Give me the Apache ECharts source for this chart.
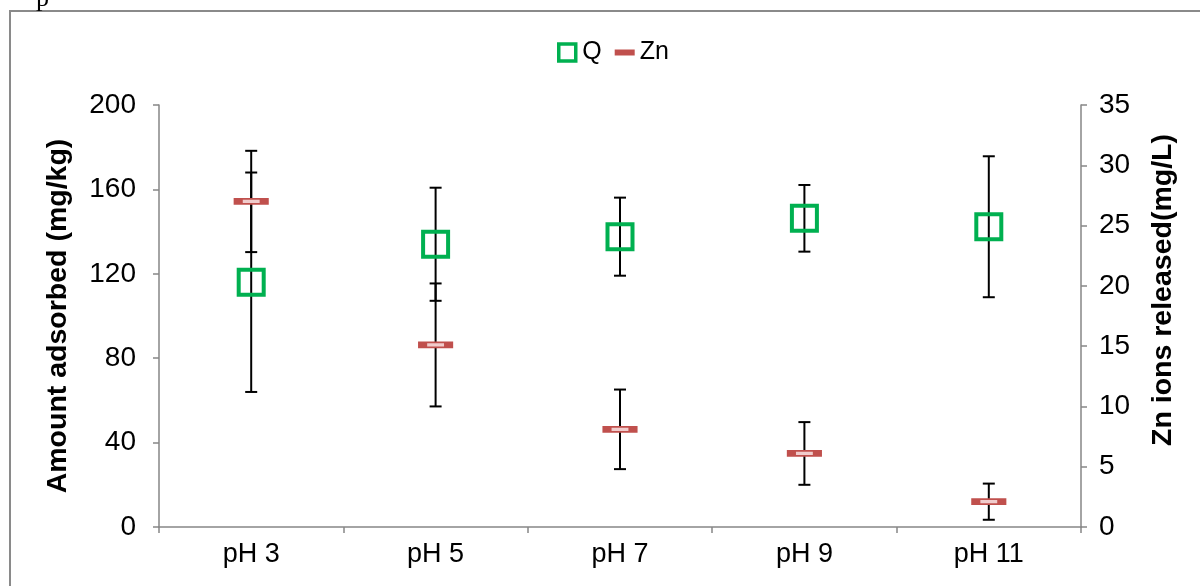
<!DOCTYPE html>
<html>
<head>
<meta charset="utf-8">
<script src="https://cdn.jsdelivr.net/npm/echarts@6/dist/echarts.min.js"></script>
<style>
html,body{margin:0;padding:0;background:#fff;}
#chart{width:1200px;height:586px;}
</style>
</head>
<body>
<div id="chart"></div>
<script>
const categories = ['pH 3', 'pH 5', 'pH 7', 'pH 9', 'pH 11'];
const qValues = [116, 134, 137.6, 146.3, 142.3];
const qErrors = [52, 26.8, 18.5, 15.8, 33.4];
const znValues = [27.0, 15.1, 8.1, 6.1, 2.1];
const znErrors = [4.2, 5.1, 3.3, 2.6, 1.5];
const leftTicks = { min: 0, max: 200, interval: 40 };
const rightTicks = { min: 0, max: 35, interval: 5 };

const FONT = '"Liberation Sans", Arial, sans-serif';
const AXIS_COLOR = '#868686';

function errData(vals, errs) {
  return vals.map((v, i) => [i, v - errs[i], v + errs[i]]);
}

function errRender(params, api) {
  const x = api.value(0);
  const lo = api.coord([x, api.value(1)]);
  const hi = api.coord([x, api.value(2)]);
  const cap = 6;
  const style = { stroke: '#000', lineWidth: 2 };
  return {
    type: 'group',
    children: [
      { type: 'line', shape: { x1: lo[0], y1: lo[1], x2: hi[0], y2: hi[1] }, style },
      { type: 'line', shape: { x1: lo[0] - cap, y1: lo[1], x2: lo[0] + cap, y2: lo[1] }, style },
      { type: 'line', shape: { x1: hi[0] - cap, y1: hi[1], x2: hi[0] + cap, y2: hi[1] }, style }
    ]
  };
}

const chart = echarts.init(document.getElementById('chart'));
chart.setOption({
  animation: false,
  backgroundColor: '#fff',
  textStyle: { fontFamily: FONT },
  graphic: [
    { type: 'rect', shape: { x: 10, y: 11, width: 1400, height: 800 }, style: { fill: 'none', stroke: '#8a8a8a', lineWidth: 2 }, silent: true },
    { type: 'text', x: 36, y: -14, style: { text: 'p', font: '26px "Liberation Serif", serif', fill: '#000' }, silent: true }
  ],
  legend: {
    top: 35,
    left: 552,
    itemGap: 13,
    itemWidth: 20,
    itemHeight: 17,
    textStyle: { fontSize: 25, color: '#000', fontFamily: FONT },
    data: [
      { name: 'Q', icon: 'path://M0,0h10v10h-10z', itemStyle: { color: 'rgba(0,0,0,0)', borderColor: '#00B050', borderWidth: 3.5 } },
      { name: 'Zn', icon: 'path://M0,0h20v6h-20z', itemStyle: { color: '#C0504D', borderWidth: 0 } }
    ]
  },
  grid: { left: 159, right: 119, top: 105, bottom: 59 },
  xAxis: {
    type: 'category',
    data: categories,
    boundaryGap: true,
    axisLine: { lineStyle: { color: AXIS_COLOR, width: 1.5 } },
    axisTick: { show: true, length: 6, lineStyle: { color: AXIS_COLOR, width: 1.5 } },
    axisLabel: { fontSize: 27, color: '#000', margin: 14, fontFamily: FONT },
    splitLine: { show: false }
  },
  yAxis: [
    {
      type: 'value',
      min: leftTicks.min, max: leftTicks.max, interval: leftTicks.interval,
      name: 'Amount adsorbed (mg/kg)',
      nameLocation: 'middle',
      nameRotate: 90,
      nameGap: 86,
      nameTextStyle: { fontSize: 28.5, fontWeight: 'bold', color: '#000', fontFamily: FONT },
      axisLine: { show: true, lineStyle: { color: AXIS_COLOR, width: 1.5 } },
      axisTick: { show: true, length: 6, lineStyle: { color: AXIS_COLOR, width: 1.5 } },
      axisLabel: { fontSize: 28, color: '#000', margin: 23, fontFamily: FONT },
      splitLine: { show: false }
    },
    {
      type: 'value',
      min: rightTicks.min, max: rightTicks.max, interval: rightTicks.interval,
      position: 'right',
      name: 'Zn ions released(mg/L)',
      nameLocation: 'middle',
      nameRotate: 90,
      nameGap: 68,
      nameTextStyle: { fontSize: 28.5, fontWeight: 'bold', color: '#000', fontFamily: FONT, padding: [0, 0, 0, 52] },
      axisLine: { show: true, lineStyle: { color: AXIS_COLOR, width: 1.5 } },
      axisTick: { show: true, length: 6, lineStyle: { color: AXIS_COLOR, width: 1.5 } },
      axisLabel: { fontSize: 28, color: '#000', margin: 18, fontFamily: FONT },
      splitLine: { show: false }
    }
  ],
  series: [
    {
      name: 'Q err', type: 'custom', yAxisIndex: 0, z: 1,
      renderItem: errRender, data: errData(qValues, qErrors), silent: true
    },
    {
      name: 'Zn err', type: 'custom', yAxisIndex: 1, z: 1,
      renderItem: errRender, data: errData(znValues, znErrors), silent: true
    },
    {
      name: 'Q', type: 'scatter', yAxisIndex: 0, z: 3,
      symbol: 'rect', symbolSize: 25,
      itemStyle: { color: 'rgba(0,0,0,0)', borderColor: '#00B050', borderWidth: 4, opacity: 1 },
      data: qValues
    },
    {
      name: 'Zn', type: 'scatter', yAxisIndex: 1, z: 3,
      symbol: 'rect', symbolSize: [26, 5],
      itemStyle: { color: '#f0cccc', borderColor: '#C0504D', borderWidth: 4, opacity: 1 },
      data: znValues
    }
  ]
});
</script>
</body>
</html>
